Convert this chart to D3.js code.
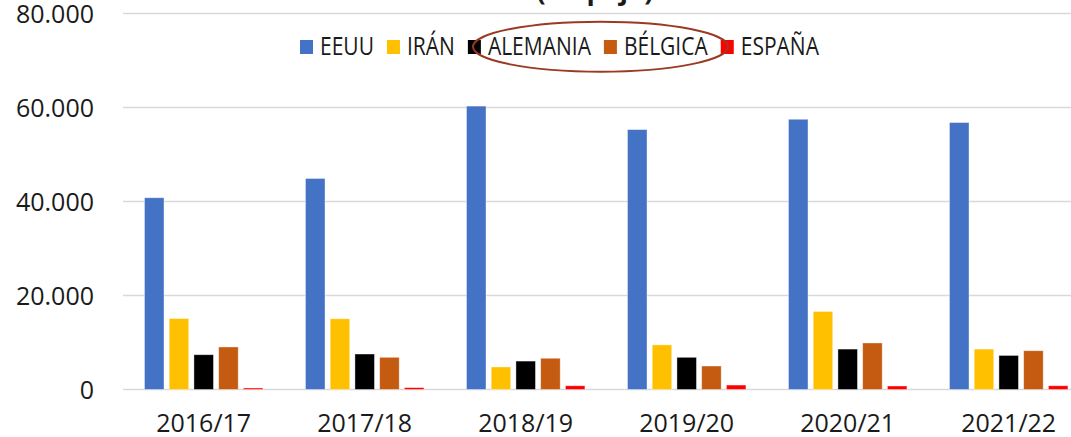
<!DOCTYPE html>
<html>
<head>
<meta charset="utf-8">
<script src="https://cdn.jsdelivr.net/npm/d3@7"></script>
<style>
  body { margin: 0; background: #fff; }
  svg { display: block; font-family: "Open Sans", sans-serif; }
</style>
</head>
<body>
<div id="chart"></div>
<script>
// data
const seasons = ["2016/17", "2017/18", "2018/19", "2019/20", "2020/21", "2021/22"];
const countries = ["EEUU", "IRÁN", "ALEMANIA", "BÉLGICA", "ESPAÑA"];
const colors = ["#4472C4", "#FFC000", "#000000", "#C55A11", "#FF0000"];
const eeuu     = [40800, 44900, 60300, 55300, 57500, 56800];
const iran     = [15100, 15050, 4800, 9500, 16600, 8600];
const alemania = [7400, 7550, 6050, 6850, 8600, 7250];
const belgica  = [9050, 6850, 6650, 5000, 9900, 8250];
const espana   = [320, 400, 800, 950, 750, 800];
const yTicks = [0, 20000, 40000, 60000, 80000];

const series = [eeuu, iran, alemania, belgica, espana];

const width = 1071, height = 437;
const svg = d3.select("#chart").append("svg")
  .attr("width", width)
  .attr("height", height);

// plot area runs past the right edge of the picture (it is cropped)
const x0 = d3.scaleBand().domain(seasons).range([123.2, 1089.2]);
const x1 = d3.scaleBand().domain(countries)
  .range([0, x0.bandwidth()])
  .paddingInner(0.21)
  .paddingOuter(0.86);
const y = d3.scaleLinear().domain([0, 80000]).range([389.5, 13.5]);

// gridlines
svg.append("g")
  .selectAll("line")
  .data(yTicks)
  .enter()
  .append("line")
  .attr("x1", 123)
  .attr("x2", width)
  .attr("y1", d => y(d))
  .attr("y2", d => y(d))
  .attr("stroke", "#d9d9d9")
  .attr("stroke-width", 1.5);

// y labels
svg.append("g")
  .selectAll("text")
  .data(yTicks)
  .enter()
  .append("text")
  .attr("x", 94)
  .attr("y", d => y(d) + 9)
  .attr("text-anchor", "end")
  .attr("font-size", 25)
  .attr("fill", "#1a1a1a")
  .text(d => d3.format(",")(d).replace(/,/g, "."));

// bars
const group = svg.append("g")
  .selectAll("g")
  .data(seasons)
  .enter()
  .append("g")
  .attr("transform", d => `translate(${x0(d)},0)`);

group.selectAll("rect")
  .data((d, i) => countries.map((c, k) => ({ c, k, v: series[k][i] })))
  .enter()
  .append("rect")
  .attr("x", d => x1(d.c))
  .attr("width", x1.bandwidth())
  .attr("y", d => y(d.v))
  .attr("height", d => y(0) - y(d.v))
  .attr("fill", d => colors[d.k])
  .attr("stroke", "#fff")
  .attr("stroke-opacity", 0.5)
  .attr("stroke-width", 0.8);

// x labels
svg.append("g")
  .selectAll("text")
  .data(seasons)
  .enter()
  .append("text")
  .attr("x", d => x0(d) + x0.bandwidth() / 2)
  .attr("y", 432)
  .attr("text-anchor", "middle")
  .attr("font-size", 25)
  .attr("fill", "#1a1a1a")
  .text(d => d);

// title, mostly cut off at the top
svg.append("text")
  .attr("x", 595)
  .attr("y", 0)
  .attr("text-anchor", "middle")
  .attr("font-size", 27)
  .attr("font-weight", "bold")
  .attr("fill", "#1a1a1a")
  .text("(en paja)");

// legend
const legend = svg.append("g");
let lx = 300;
countries.forEach((c, k) => {
  legend.append("rect")
    .attr("x", lx)
    .attr("y", 40)
    .attr("width", 13)
    .attr("height", 14)
    .attr("fill", colors[k]);
  const t = legend.append("text")
    .attr("x", lx + 20)
    .attr("y", 55)
    .attr("font-size", 25)
    .attr("fill", "#1a1a1a")
    .text(c);
  const w = t.node().getComputedTextLength() * 0.84;
  t.attr("textLength", w).attr("lengthAdjust", "spacingAndGlyphs");
  lx += 20 + w + 13;
});

// hand-drawn ellipse around ALEMANIA / BÉLGICA
svg.append("ellipse")
  .attr("cx", 600.5)
  .attr("cy", 46.7)
  .attr("rx", 127.5)
  .attr("ry", 25)
  .attr("fill", "none")
  .attr("stroke", "#9b3a22")
  .attr("stroke-width", 2);
</script>
</body>
</html>
